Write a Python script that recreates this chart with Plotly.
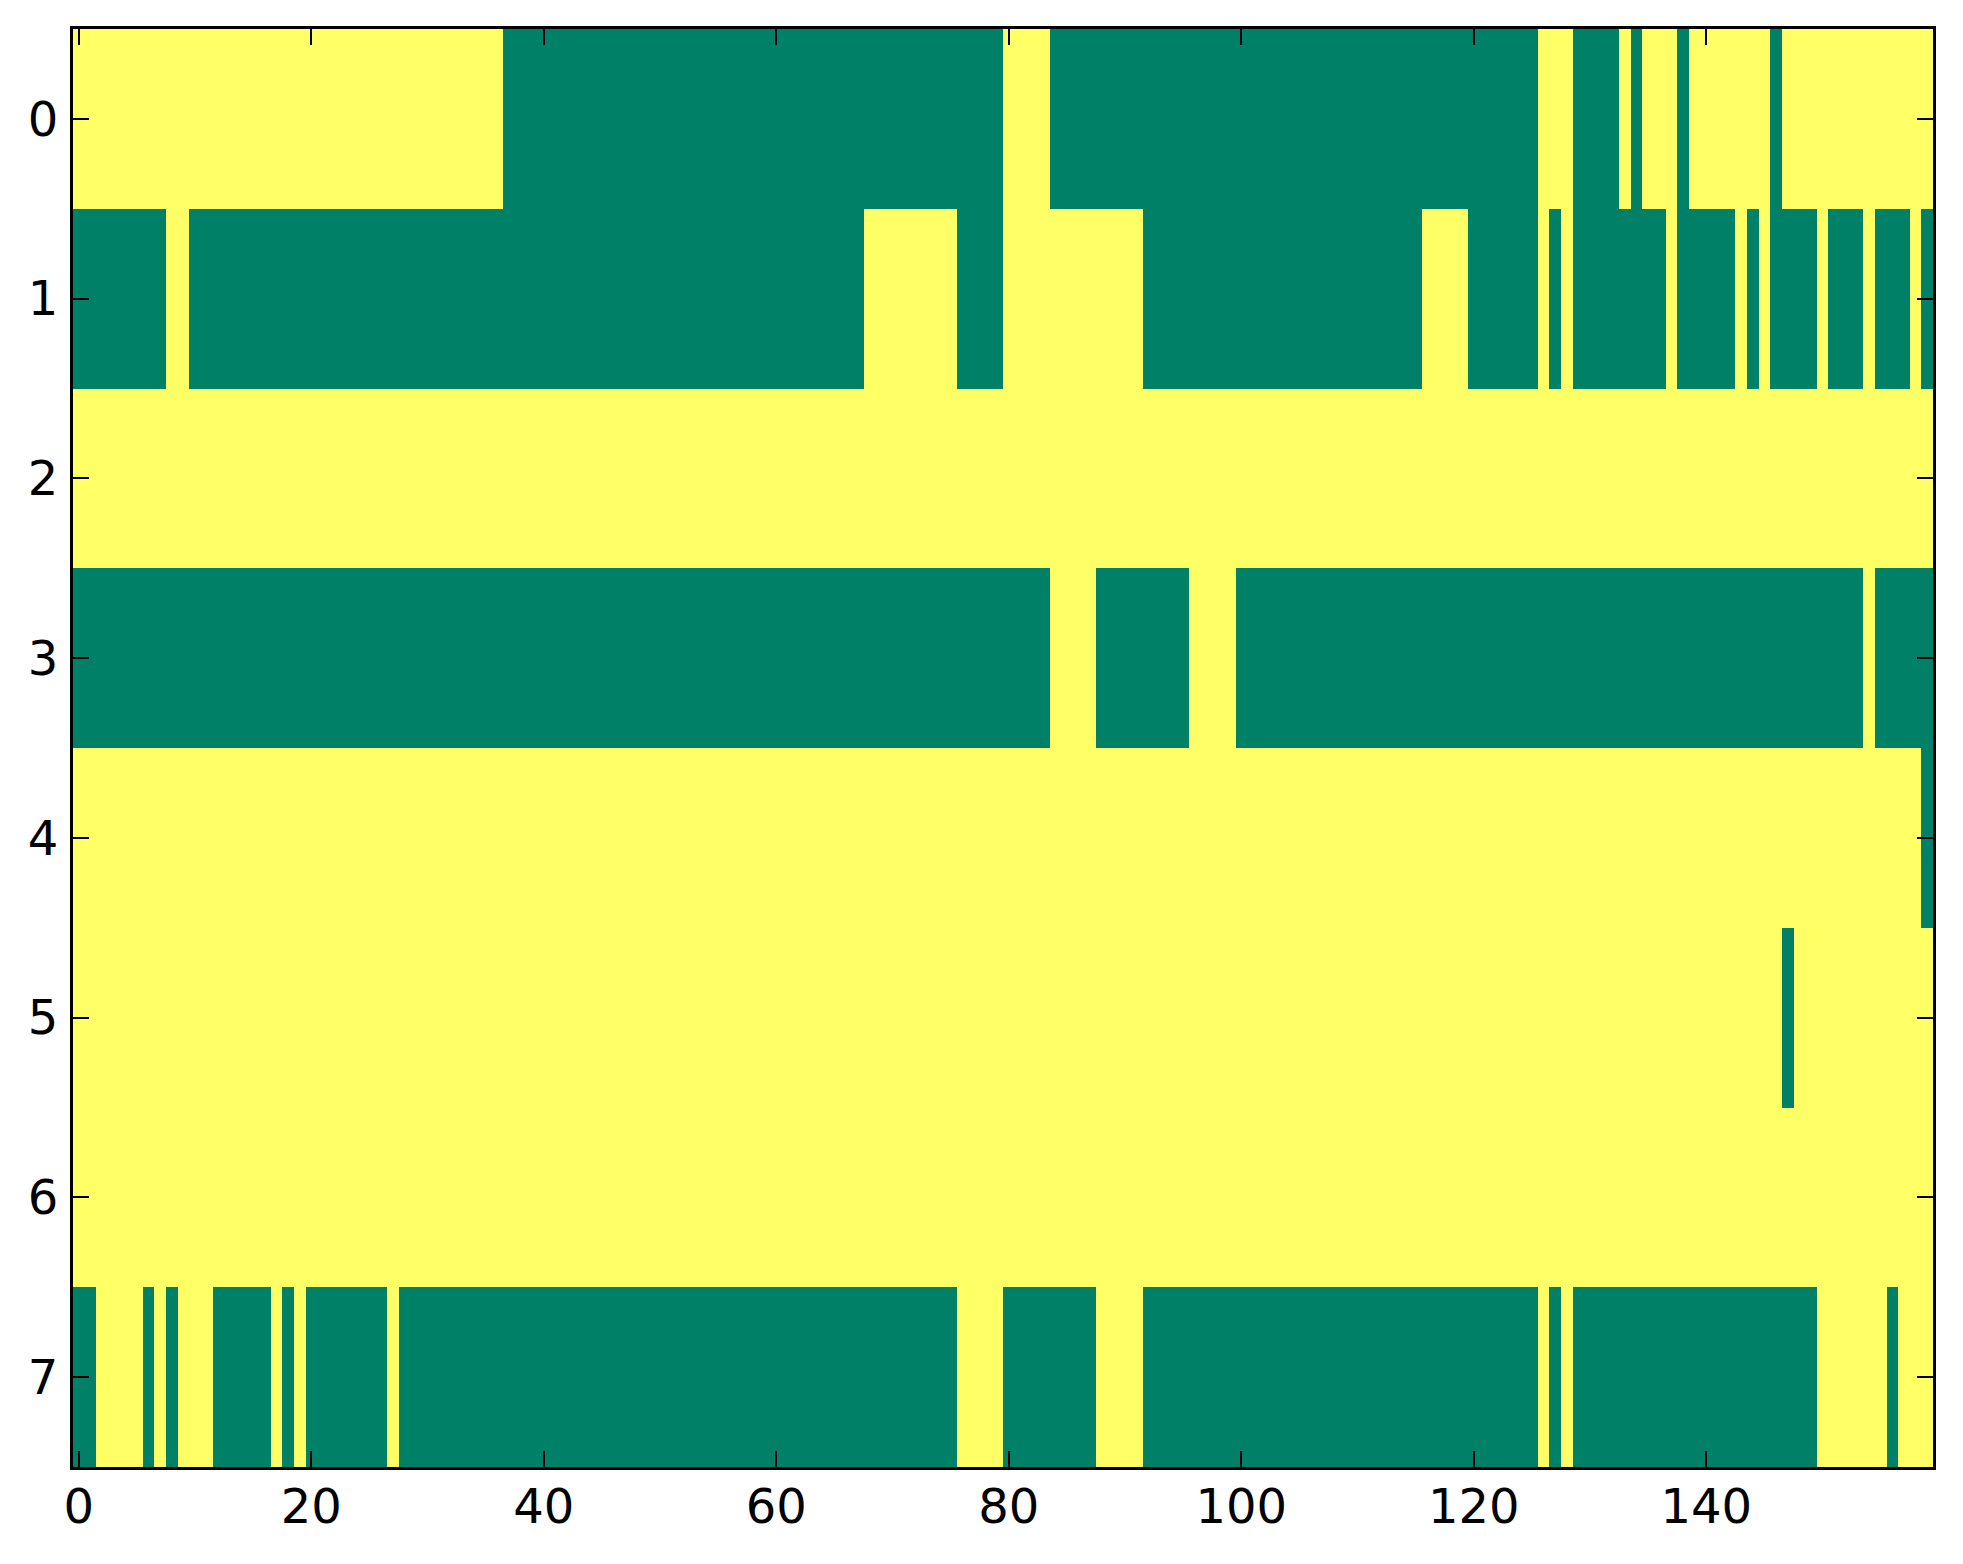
import plotly.graph_objects as go

# 1 = yellow, 0 = green, one string per row, groups of ten columns
row0 = "1111111111 1111111111 1111111111 1111111000 0000000000 0000000000 0000000000 0000000000 1111000000 0000000000 0000000000 0000000000 0000001110 0001011101 1111110111 1111111111"
row1 = "0000000011 0000000000 0000000000 0000000000 0000000000 0000000000 0000000011 1111110000 1111111111 1100000000 0000000000 0000001111 0000001010 0000000100 0001010000 1000100010"
row2 = "1111111111 1111111111 1111111111 1111111111 1111111111 1111111111 1111111111 1111111111 1111111111 1111111111 1111111111 1111111111 1111111111 1111111111 1111111111 1111111111"
row3 = "0000000000 0000000000 0000000000 0000000000 0000000000 0000000000 0000000000 0000000000 0000111100 0000001111 0000000000 0000000000 0000000000 0000000000 0000000000 0000100000"
row4 = "1111111111 1111111111 1111111111 1111111111 1111111111 1111111111 1111111111 1111111111 1111111111 1111111111 1111111111 1111111111 1111111111 1111111111 1111111111 1111111110"
row5 = "1111111111 1111111111 1111111111 1111111111 1111111111 1111111111 1111111111 1111111111 1111111111 1111111111 1111111111 1111111111 1111111111 1111111111 1111111011 1111111111"
row6 = "1111111111 1111111111 1111111111 1111111111 1111111111 1111111111 1111111111 1111111111 1111111111 1111111111 1111111111 1111111111 1111111111 1111111111 1111111111 1111111111"
row7 = "0011110101 1100000101 0000000100 0000000000 0000000000 0000000000 0000000000 0000001111 0000000011 1100000000 0000000000 0000000000 0000001010 0000000000 0000000000 1111110111"

rows = [row0, row1, row2, row3, row4, row5, row6, row7]
z = [[int(c) for c in r.replace(" ", "")] for r in rows]
cols = list(range(len(z[0])))
row_ids = list(range(len(z)))

x_ticks = [0, 20, 40, 60, 80, 100, 120, 140]
y_ticks = [0, 1, 2, 3, 4, 5, 6, 7]

fig = go.Figure(go.Heatmap(
    z=z, x=cols, y=row_ids,
    colorscale=[[0, "#008066"], [1, "#ffff66"]],
    zmin=0, zmax=1, showscale=False, hoverongaps=False,
))

axis_style = dict(
    showline=True, linecolor="black", linewidth=3, mirror="ticks",
    ticks="inside", ticklen=16, tickwidth=2, tickcolor="black",
    showgrid=False, zeroline=False,
    tickfont=dict(family="DejaVu Sans", size=48, color="black"),
)

fig.update_xaxes(range=[-0.5, 159.5], tickvals=x_ticks, ticklabelstandoff=-5, **axis_style)
fig.update_yaxes(range=[7.5, -0.5], tickvals=y_ticks, ticklabelstandoff=2, **axis_style)

# page body adds 8px on the left/top, so the margins are trimmed by that
fig.update_layout(
    width=1955, height=1556,
    margin=dict(l=65, r=30, t=21, b=97),
    paper_bgcolor="white", plot_bgcolor="white",
)

fig.write_html("out.html")
